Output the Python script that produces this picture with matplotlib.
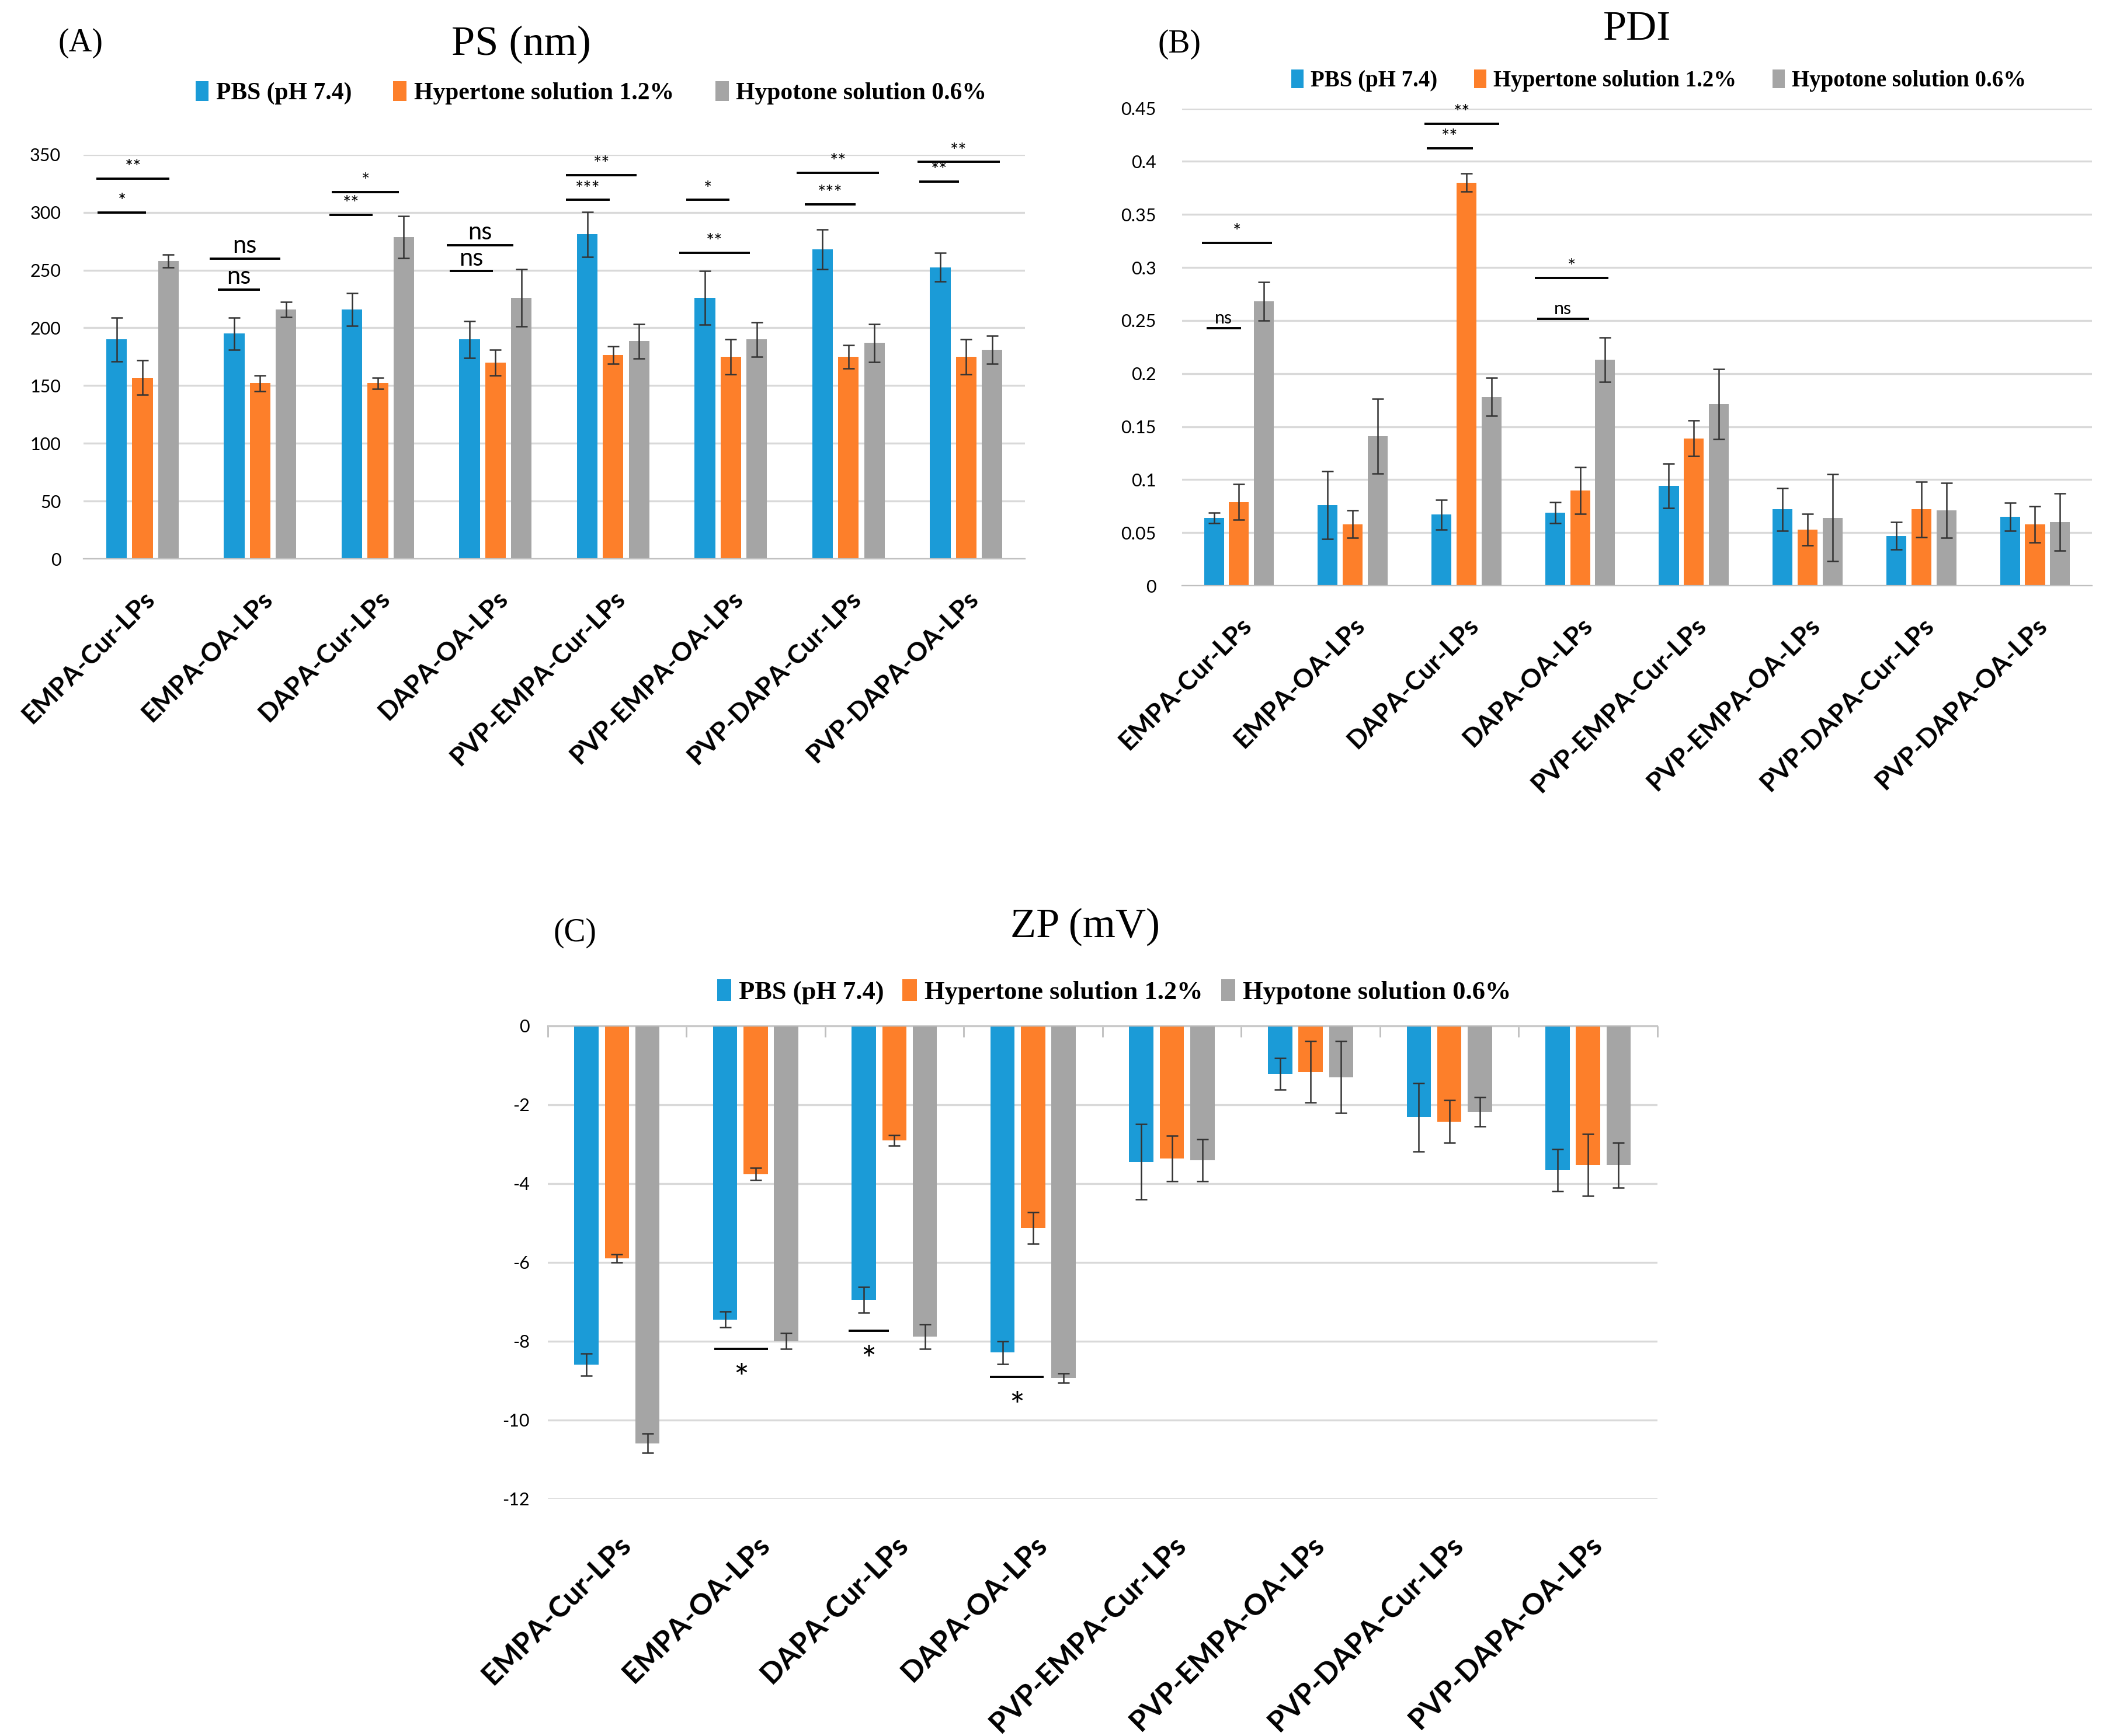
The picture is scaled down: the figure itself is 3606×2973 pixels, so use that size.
import matplotlib.pyplot as plt
import numpy as np

plt.rcParams['axes.unicode_minus'] = False

categories = ['EMPA-Cur-LPs', 'EMPA-OA-LPs', 'DAPA-Cur-LPs', 'DAPA-OA-LPs',
              'PVP-EMPA-Cur-LPs', 'PVP-EMPA-OA-LPs', 'PVP-DAPA-Cur-LPs', 'PVP-DAPA-OA-LPs']
series = ['PBS (pH 7.4)', 'Hypertone solution 1.2%', 'Hypotone solution 0.6%']
colors = ['#1b9bd7', '#fd7f2a', '#a5a5a5']

# (A) particle size, nm
ps_pbs = [190, 195, 216, 190, 281, 226, 268, 252.5]
ps_pbs_err = [19, 14, 14, 16, 19.5, 23, 17, 12.5]
ps_hyper = [157, 152, 152, 170, 176.5, 175, 175, 175]
ps_hyper_err = [15, 7, 5, 11, 7.5, 15, 10, 15]
ps_hypo = [258, 216, 278.5, 226, 188.5, 190, 187, 181]
ps_hypo_err = [5.5, 6.5, 18, 25, 15, 15, 16.5, 12]

# (B) polydispersity index
pdi_pbs = [0.064, 0.076, 0.067, 0.069, 0.094, 0.072, 0.047, 0.065]
pdi_pbs_err = [0.005, 0.032, 0.014, 0.010, 0.021, 0.020, 0.013, 0.013]
pdi_hyper = [0.079, 0.058, 0.380, 0.090, 0.139, 0.053, 0.072, 0.058]
pdi_hyper_err = [0.017, 0.013, 0.0085, 0.022, 0.017, 0.015, 0.026, 0.017]
pdi_hypo = [0.268, 0.141, 0.178, 0.213, 0.171, 0.064, 0.071, 0.060]
pdi_hypo_err = [0.018, 0.035, 0.018, 0.021, 0.033, 0.041, 0.026, 0.027]

# (C) zeta potential, mV
zp_pbs = [-8.60, -7.45, -6.95, -8.29, -3.45, -1.22, -2.32, -3.66]
zp_pbs_err = [0.28, 0.20, 0.32, 0.29, 0.96, 0.40, 0.87, 0.53]
zp_hyper = [-5.90, -3.76, -2.91, -5.13, -3.37, -1.17, -2.43, -3.53]
zp_hyper_err = [0.10, 0.15, 0.13, 0.40, 0.58, 0.78, 0.54, 0.78]
zp_hypo = [-10.59, -8.00, -7.89, -8.94, -3.41, -1.30, -2.18, -3.53]
zp_hypo_err = [0.24, 0.20, 0.31, 0.12, 0.54, 0.91, 0.37, 0.57]

# significance brackets: (group, start offset, end offset, level, label)
sig_ps = [(0, -0.39, 0.23, 329, '**'), (0, -0.38, 0.03, 300, '*'),
          (1, -0.43, 0.17, 260, 'ns'), (1, -0.36, 0.0, 233, 'ns'),
          (2, -0.39, 0.18, 317.5, '*'), (2, -0.41, -0.045, 298, '**'),
          (3, -0.415, 0.15, 271.5, 'ns'), (3, -0.39, -0.02, 249, 'ns'),
          (4, -0.40, 0.20, 332, '**'), (4, -0.40, -0.03, 310.7, '***'),
          (5, -0.38, -0.01, 310.7, '*'), (5, -0.44, 0.16, 265, '**'),
          (6, -0.44, 0.26, 334, '**'), (6, -0.37, 0.06, 307, '***'),
          (7, -0.415, 0.284, 343.5, '**'), (7, -0.40, -0.06, 326.5, '**')]
sig_pdi = [(0, -0.326, 0.293, 0.3231, '*'), (0, -0.287, 0.017, 0.2427, 'ns'),
           (2, -0.37, 0.29, 0.4353, '**'), (2, -0.35, 0.055, 0.4124, '**'),
           (3, -0.40, 0.25, 0.2903, '*'), (3, -0.38, 0.08, 0.2516, 'ns')]
sig_zp = [(1, -0.30, 0.09, -8.2, '*'), (2, -0.33, -0.04, -7.73, '*'),
          (3, -0.31, 0.075, -8.91, '*')]

SANS = 'Lato'
SERIF = 'Liberation Serif'

fig = plt.figure(figsize=(18.03, 14.865), dpi=200)


def draw_panel(rect, vals, errs, ylim, yticks, ylabels, cat_size, ypad, xpad):
    ax = fig.add_axes(rect)
    x = np.arange(len(categories))
    w = 0.175
    for k in range(3):
        ax.bar(x + (k - 1) * 0.22, vals[k], w, color=colors[k], label=series[k],
               yerr=errs[k], error_kw=dict(ecolor='#333333', elinewidth=0.9,
                                           capsize=3.5, capthick=0.9), zorder=2)
    ax.set_xlim(-0.5, len(categories) - 0.5)
    ax.set_ylim(*ylim)
    ax.set_yticks(yticks)
    ax.set_yticklabels(ylabels, fontfamily=SANS, fontsize=11)
    ax.yaxis.grid(True, color='#d9d9d9', lw=1.2)
    ax.set_axisbelow(True)
    for s in ax.spines.values():
        s.set_visible(False)
    ax.tick_params(axis='y', length=0, pad=ypad)
    ax.set_xticks(x)
    ax.set_xticklabels(categories, rotation=45, ha='right', va='top',
                       rotation_mode='anchor', fontfamily=SANS,
                       fontweight='bold', fontsize=cat_size)
    ax.tick_params(axis='x', which='major', length=0, pad=xpad)
    return ax


def brackets(ax, sig, size_star, size_ns, below=False):
    for g, a, b, y, lab in sig:
        ax.plot([g + a, g + b], [y, y], color='black', lw=1.4, zorder=3,
                solid_capstyle='butt')
        size = size_ns if lab == 'ns' else size_star
        if below:
            ax.annotate(lab, ((g + a + g + b) / 2, y), xytext=(0, -9),
                        textcoords='offset points', ha='center', va='top',
                        fontsize=size, fontfamily=SANS)
        else:
            ax.annotate(lab, ((g + a + g + b) / 2, y), xytext=(0, 1),
                        textcoords='offset points', ha='center', va='bottom',
                        fontsize=size, fontfamily=SANS)


# Panel A
ps_ticks = np.arange(0, 351, 50)
axA = draw_panel([0.0397, 0.678, 0.447, 0.233],
                 [ps_pbs, ps_hyper, ps_hypo], [ps_pbs_err, ps_hyper_err, ps_hypo_err],
                 (0, 350), ps_ticks, [f'{v:g}' for v in ps_ticks], 16, 14, 17)
axA.spines['bottom'].set_visible(True)
axA.spines['bottom'].set_color('#bfbfbf')
brackets(axA, sig_ps, 12, 15)

# Panel B
pdi_ticks = np.round(np.arange(0, 0.451, 0.05), 2)
axB = draw_panel([0.5613, 0.6626, 0.432, 0.275],
                 [pdi_pbs, pdi_hyper, pdi_hypo], [pdi_pbs_err, pdi_hyper_err, pdi_hypo_err],
                 (0, 0.45), pdi_ticks, [f'{v:g}' for v in pdi_ticks], 16, 16, 17)
axB.spines['bottom'].set_visible(True)
axB.spines['bottom'].set_color('#bfbfbf')
brackets(axB, sig_pdi, 12, 11)

# Panel C
zp_ticks = np.arange(-12, 1, 2)
axC = draw_panel([0.260, 0.1366, 0.527, 0.2725],
                 [zp_pbs, zp_hyper, zp_hypo], [zp_pbs_err, zp_hyper_err, zp_hypo_err],
                 (-12, 0), zp_ticks, [f'{v:g}' for v in zp_ticks], 18, 11, 20)
axC.spines['top'].set_visible(True)
axC.spines['top'].set_color('#bfbfbf')
axC.set_xticks(np.arange(-0.5, len(categories)), minor=True)
axC.tick_params(axis='x', which='minor', top=True, bottom=False, direction='in',
                length=7, color='#bfbfbf', width=1.0)
brackets(axC, sig_zp, 22, 22, below=True)

# titles, panel letters, legends
fig.text(0.2474, 0.9744, 'PS (nm)', ha='center', va='center', fontsize=26, fontfamily=SERIF)
fig.text(0.7774, 0.983, 'PDI', ha='center', va='center', fontsize=26, fontfamily=SERIF)
fig.text(0.5153, 0.4662, 'ZP (mV)', ha='center', va='center', fontsize=26, fontfamily=SERIF)
fig.text(0.0383, 0.975, '(A)', ha='center', va='center', fontsize=20, fontfamily=SERIF)
fig.text(0.560, 0.9745, '(B)', ha='center', va='center', fontsize=20, fontfamily=SERIF)
fig.text(0.273, 0.4625, '(C)', ha='center', va='center', fontsize=20, fontfamily=SERIF)

for ax, pos, cs, fs in [(axA, (0.2806, 0.9465), 1.7, 15), (axB, (0.7876, 0.9536), 1.6, 14),
                        (axC, (0.529, 0.4285), 0.7, 16)]:
    h, l = ax.get_legend_handles_labels()
    fig.legend(h, l, loc='center', bbox_to_anchor=pos, ncol=3, frameon=False,
               prop=dict(family=SERIF, weight='bold', size=fs),
               handlelength=0.55, handleheight=0.9,
               handletextpad=0.3, columnspacing=cs, borderpad=0)

fig.savefig('out.png', dpi=200, facecolor='white')
